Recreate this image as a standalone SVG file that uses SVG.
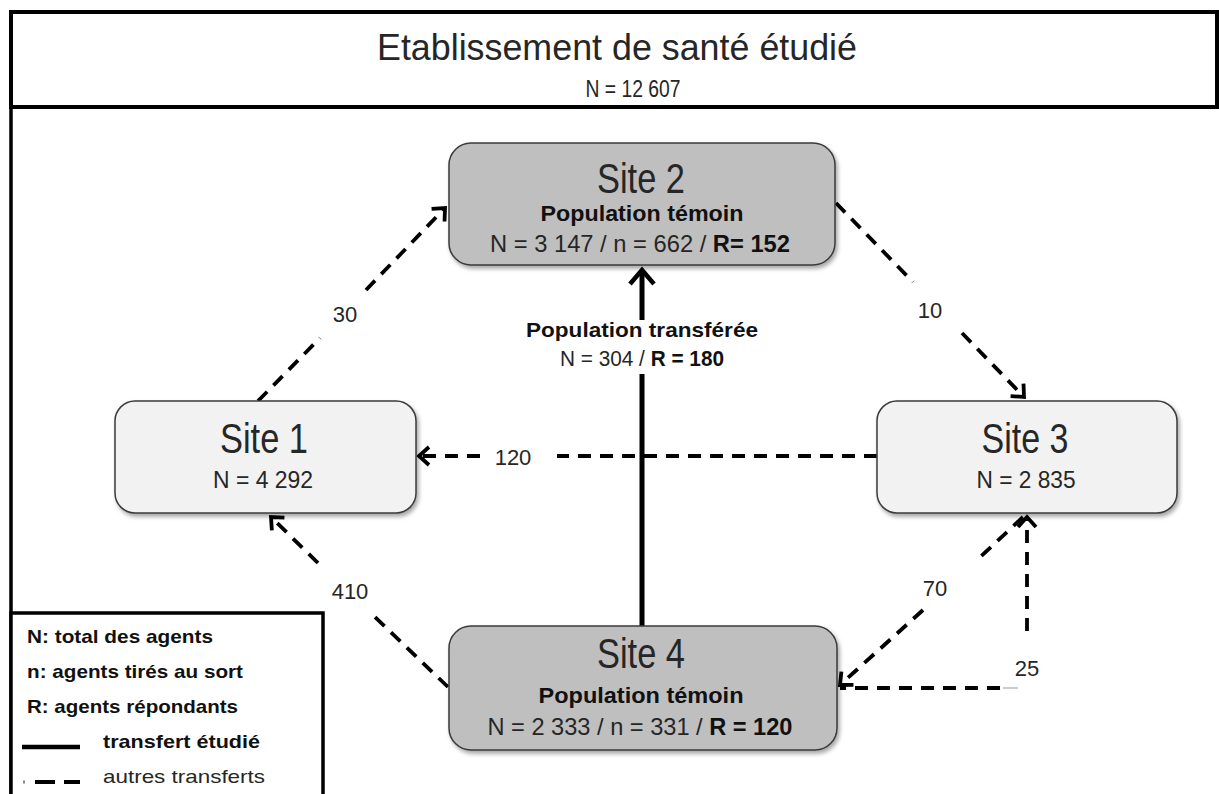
<svg xmlns="http://www.w3.org/2000/svg" width="1219" height="794" viewBox="0 0 1219 794">
<style>
text{font-family:"Liberation Sans",Arial,sans-serif;fill:#262626}
.b{font-weight:bold;fill:#111}
.c{text-anchor:middle}
.box-dark{fill:#bfbfbf;stroke:#3a3a3a;stroke-width:1.5}
.box-light{fill:#f2f2f2;stroke:#3a3a3a;stroke-width:1.5}
.dash{fill:none;stroke:#000;stroke-width:3.8;stroke-dasharray:13 9}
.solid{fill:none;stroke:#000;stroke-width:5}
.lbl{font-size:22px}
</style>
<defs>
<filter id="sh" x="-10%" y="-10%" width="120%" height="130%">
<feDropShadow dx="2" dy="3" stdDeviation="2" flood-color="#000" flood-opacity="0.35"/>
</filter>
<marker id="ah" markerUnits="userSpaceOnUse" markerWidth="30" markerHeight="30" refX="15" refY="15" orient="auto">
<path d="M5,6 L15,15 L5,24" fill="none" stroke="#000" stroke-width="3.8"/>
</marker>
<marker id="ahs" markerUnits="userSpaceOnUse" markerWidth="34" markerHeight="34" refX="17" refY="17" orient="auto">
<path d="M3,5 L17,17 L3,29" fill="none" stroke="#000" stroke-width="4.5"/>
</marker>
</defs>
<rect width="1219" height="794" fill="#fff"/>

<g id="frame">
<rect x="11" y="12" width="1206" height="95" fill="#fff" stroke="#000" stroke-width="4"/>
<line x1="11" y1="107" x2="11" y2="794" stroke="#000" stroke-width="3.5"/>
<text class="c" x="617" y="60" font-size="36" textLength="480" lengthAdjust="spacingAndGlyphs">Etablissement de santé étudié</text>
<text class="c" x="633" y="97" font-size="23" textLength="95" lengthAdjust="spacingAndGlyphs">N =  12 607</text>
</g>

<g id="connectors">
<!-- Site 1 -> Site 2 (30) -->
<line class="dash" x1="258" y1="401" x2="320" y2="338"/>
<line class="dash" x1="366" y1="290" x2="445" y2="208" marker-end="url(#ah)"/>
<text class="c lbl" x="345" y="322">30</text>
<!-- Site 2 -> Site 3 (10) -->
<line class="dash" x1="836" y1="203" x2="913" y2="282"/>
<line class="dash" x1="962" y1="333" x2="1024" y2="397" marker-end="url(#ah)"/>
<text class="c lbl" x="930" y="318">10</text>
<!-- Site 3 -> Site 1 (120) -->
<line class="dash" x1="877" y1="456" x2="557" y2="456"/>
<line class="dash" x1="480" y1="456" x2="419" y2="456" marker-end="url(#ah)"/>
<text class="c lbl" x="513" y="465">120</text>
<!-- Site 4 -> Site 1 (410) -->
<line class="dash" x1="448" y1="687" x2="375" y2="617"/>
<line class="dash" x1="318" y1="563" x2="271" y2="517" marker-end="url(#ah)"/>
<text class="c lbl" x="350" y="599">410</text>
<!-- Site 3 -> Site 4 (70) -->
<line class="dash" x1="1023" y1="517" x2="975" y2="562"/>
<line class="dash" x1="923" y1="610" x2="840" y2="685" marker-end="url(#ah)"/>
<text class="c lbl" x="935" y="596">70</text>
<!-- Site 4 -> Site 3 (25) -->
<line class="dash" x1="1000" y1="688" x2="840" y2="688"/>
<line x1="1003" y1="688" x2="1018" y2="688" stroke="#bbb" stroke-width="1.5"/>
<line class="dash" x1="1027" y1="631" x2="1027" y2="517" marker-end="url(#ah)"/>
<text class="c lbl" x="1027" y="676">25</text>
<!-- Site 4 -> Site 2 (solid) -->
<line class="solid" x1="642" y1="320" x2="642" y2="270" marker-end="url(#ahs)"/>
<line class="solid" x1="642" y1="374" x2="642" y2="626"/>
<text class="c b" x="642" y="337" font-size="21" textLength="232" lengthAdjust="spacingAndGlyphs">Population transférée</text>
<text class="c" x="642" y="366" font-size="22" textLength="164" lengthAdjust="spacingAndGlyphs">N = 304 / <tspan class="b">R = 180</tspan></text>
</g>

<g id="site2">
<rect class="box-dark" x="449" y="143" width="386" height="122" rx="22" filter="url(#sh)"/>
<text class="c" x="641" y="193" font-size="42" textLength="88" lengthAdjust="spacingAndGlyphs">Site 2</text>
<text class="c b" x="642" y="221" font-size="22" textLength="203" lengthAdjust="spacingAndGlyphs">Population témoin</text>
<text class="c" x="640" y="252" font-size="24" textLength="300" lengthAdjust="spacingAndGlyphs">N = 3 147 / n = 662 / <tspan class="b">R= 152</tspan></text>
</g>

<g id="site1">
<rect class="box-light" x="115" y="401" width="301" height="112" rx="20" filter="url(#sh)"/>
<text class="c" x="264" y="453" font-size="42" textLength="88" lengthAdjust="spacingAndGlyphs">Site 1</text>
<text class="c" x="263" y="488" font-size="24" textLength="100" lengthAdjust="spacingAndGlyphs">N = 4 292</text>
</g>

<g id="site3">
<rect class="box-light" x="877" y="401" width="300" height="112" rx="20" filter="url(#sh)"/>
<text class="c" x="1025" y="453" font-size="42" textLength="87" lengthAdjust="spacingAndGlyphs">Site 3</text>
<text class="c" x="1026" y="488" font-size="24" textLength="99" lengthAdjust="spacingAndGlyphs">N = 2 835</text>
</g>

<g id="site4">
<rect class="box-dark" x="449" y="626" width="388" height="124" rx="22" filter="url(#sh)"/>
<text class="c" x="641" y="668" font-size="42" textLength="88" lengthAdjust="spacingAndGlyphs">Site 4</text>
<text class="c b" x="641" y="703" font-size="22" textLength="205" lengthAdjust="spacingAndGlyphs">Population témoin</text>
<text class="c" x="640" y="735" font-size="24" textLength="305" lengthAdjust="spacingAndGlyphs">N = 2 333 / n = 331 / <tspan class="b">R = 120</tspan></text>
</g>

<g id="legend">
<rect x="11" y="613" width="312" height="200" fill="#fff" stroke="#000" stroke-width="3.5"/>
<text class="b" x="27" y="643" font-size="19" textLength="186" lengthAdjust="spacingAndGlyphs">N: total des agents</text>
<text class="b" x="27" y="678" font-size="19" textLength="216" lengthAdjust="spacingAndGlyphs">n: agents tirés au sort</text>
<text class="b" x="27" y="713" font-size="19" textLength="211" lengthAdjust="spacingAndGlyphs">R: agents répondants</text>
<line x1="22" y1="747" x2="80" y2="747" stroke="#000" stroke-width="4.5"/>
<text class="b" x="103" y="748" font-size="19" textLength="157" lengthAdjust="spacingAndGlyphs">transfert étudié</text>
<line x1="23" y1="782" x2="25" y2="782" stroke="#888" stroke-width="3"/>
<line x1="35" y1="782" x2="55" y2="782" stroke="#000" stroke-width="4"/>
<line x1="64" y1="782" x2="80" y2="782" stroke="#000" stroke-width="4"/>
<text x="103" y="783" font-size="19" textLength="162" lengthAdjust="spacingAndGlyphs" fill="#333">autres transferts</text>
</g>
</svg>
